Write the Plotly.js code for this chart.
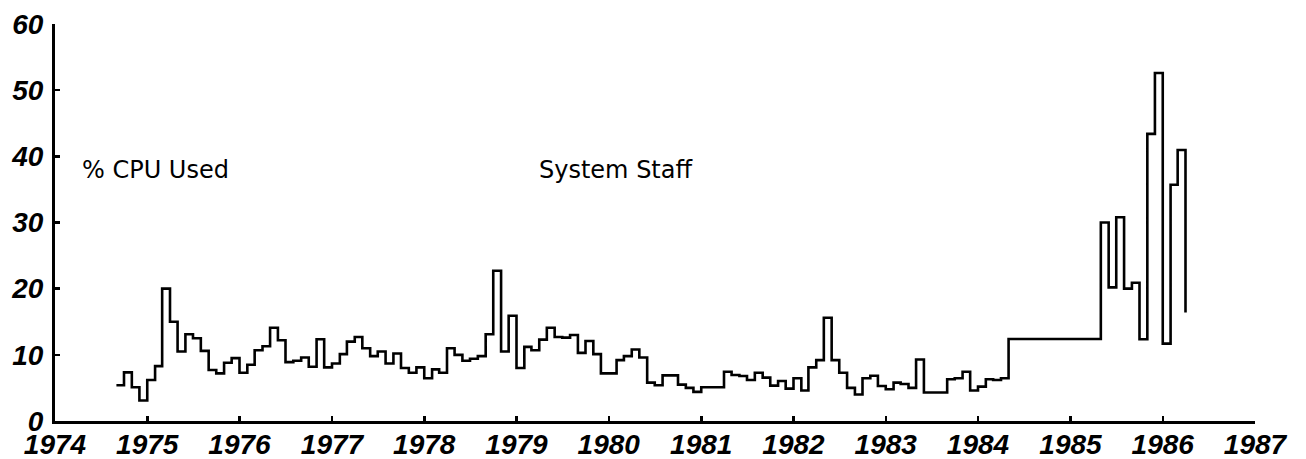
<!DOCTYPE html>
<html>
<head>
<meta charset="utf-8">
<script src="https://cdn.plot.ly/plotly-3.0.1.min.js"></script>
<style>html,body{margin:0;padding:0;background:#fff;}#chart{width:1306px;height:459px;}</style>
</head>
<body>
<div id="chart"></div>
<script>
// Monthly % CPU used by system staff, Sep 1974 .. Apr 1986
var startYear = 1974, startMonth = 9;
var cpu1974 = [5.4, 7.35, 5.1, 3.1];
var cpu1975 = [6.2, 8.3, 20.0, 15.0, 10.5, 13.1, 12.5, 10.6, 7.7, 7.2, 8.8, 9.5];
var cpu1976 = [7.3, 8.5, 10.7, 11.3, 14.1, 12.2, 8.9, 9.1, 9.6, 8.2, 12.35, 8.1];
var cpu1977 = [8.7, 10.1, 12.0, 12.7, 11.0, 9.8, 10.5, 8.7, 10.2, 8.0, 7.3, 8.1];
var cpu1978 = [6.45, 7.8, 7.3, 11.0, 10.0, 9.1, 9.4, 9.8, 13.1, 22.7, 10.5, 15.9];
var cpu1979 = [8.0, 11.2, 10.7, 12.3, 14.1, 12.7, 12.6, 13.0, 10.3, 12.1, 10.1, 7.2];
var cpu1980 = [7.2, 9.2, 9.8, 10.8, 9.6, 5.8, 5.4, 6.9, 6.9, 5.5, 5.0, 4.4];
var cpu1981 = [5.1, 5.1, 5.1, 7.45, 6.95, 6.8, 6.2, 7.3, 6.55, 5.35, 6.05, 4.9];
var cpu1982 = [6.45, 4.6, 8.1, 9.2, 15.6, 9.2, 7.3, 5.0, 4.0, 6.45, 6.85, 5.3];
var cpu1983 = [4.8, 5.8, 5.6, 5.0, 9.3, 4.3, 4.3, 4.3, 6.3, 6.45, 7.45, 4.6];
var cpu1984 = [5.2, 6.3, 6.2, 6.45, 12.4, 12.4, 12.4, 12.4, 12.4, 12.4, 12.4, 12.4];
var cpu1985 = [12.4, 12.4, 12.4, 12.4, 30.0, 20.2, 30.8, 20.0, 20.9, 12.35, 43.4, 52.6];
var cpu1986 = [11.7, 35.7, 40.95, 16.4];
var yearTicks = [1974,1975,1976,1977,1978,1979,1980,1981,1982,1983,1984,1985,1986,1987];
var yTicks = [0,10,20,30,40,50,60];
var labelLeft = "% CPU Used";
var labelMid = "System Staff";

var cpu = [].concat(cpu1974, cpu1975, cpu1976, cpu1977, cpu1978, cpu1979,
  cpu1980, cpu1981, cpu1982, cpu1983, cpu1984, cpu1985, cpu1986);
var months = cpu.map(function(_, i){
  var m = startMonth - 1 + i;
  var y = startYear + Math.floor(m / 12);
  var mm = (m % 12) + 1;
  return y + "-" + (mm < 10 ? "0" + mm : mm) + "-01";
});

var tickFont = {family: "Liberation Sans, Arial, sans-serif", size: 28, weight: "bold", style: "italic", color: "#000"};
var labelFont = {family: "DejaVu Sans, sans-serif", size: 24, color: "#000"};

var trace = {
  x: months, y: cpu, type: "scatter", mode: "lines",
  line: {shape: "hv", color: "#000", width: 2.6},
  hoverinfo: "skip"
};

var layout = {
  width: 1306, height: 459,
  margin: {l: 55, r: 51, t: 24, b: 38},
  paper_bgcolor: "#fff", plot_bgcolor: "#fff",
  showlegend: false,
  xaxis: {
    type: "date",
    range: [yearTicks[0] + "-01-01", yearTicks[yearTicks.length-1] + "-01-01"],
    tickmode: "array",
    tickvals: yearTicks.map(function(y){ return y + "-01-01"; }),
    ticktext: yearTicks.map(String),
    ticks: "inside", ticklen: 5, tickwidth: 2.5, tickcolor: "#000",
    showline: true, linecolor: "#000", linewidth: 3,
    showgrid: false, zeroline: false,
    tickfont: tickFont, ticklabelstandoff: -4
  },
  yaxis: {
    range: [0, 60],
    tickmode: "array", tickvals: yTicks, ticktext: yTicks.map(String),
    ticks: "inside", ticklen: 5, tickwidth: 2.5, tickcolor: "#000",
    showline: true, linecolor: "#000", linewidth: 3,
    showgrid: false, zeroline: false,
    tickfont: tickFont, ticklabelstandoff: 3
  },
  annotations: [
    {text: labelLeft, xref: "paper", yref: "paper", x: 0.0205, y: 0.632, xanchor: "left", yanchor: "middle", showarrow: false, font: labelFont},
    {text: labelMid, xref: "paper", yref: "paper", x: 0.402, y: 0.632, xanchor: "left", yanchor: "middle", showarrow: false, font: labelFont}
  ]
};

Plotly.newPlot("chart", [trace], layout, {staticPlot: true, displayModeBar: false});
</script>
</body>
</html>
